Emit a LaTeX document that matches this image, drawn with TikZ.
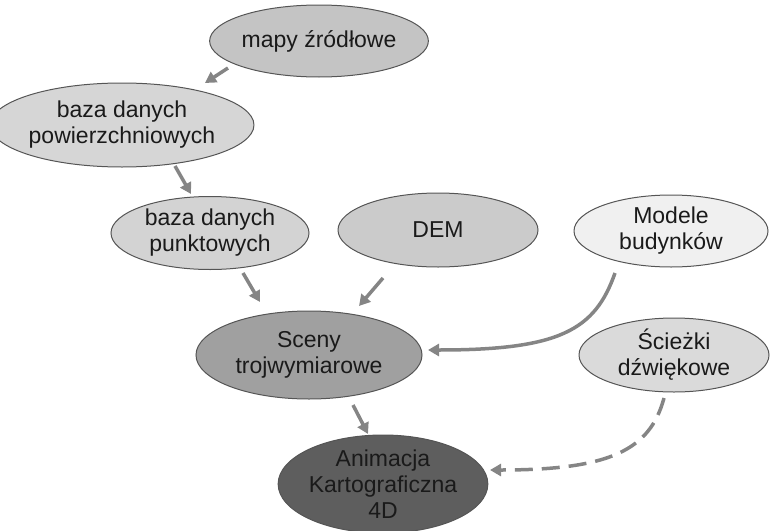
\documentclass[tikz,border=0pt]{standalone}
\usepackage{fontspec}
\setmainfont{Liberation Sans}
\usetikzlibrary{shapes.geometric,arrows.meta}
\definecolor{cMapy}{HTML}{C4C4C4}
\definecolor{cPow}{HTML}{D6D6D6}
\definecolor{cPun}{HTML}{D3D3D3}
\definecolor{cDem}{HTML}{CBCBCB}
\definecolor{cMod}{HTML}{F0F0F0}
\definecolor{cSce}{HTML}{A0A0A0}
\definecolor{cSci}{HTML}{DADADA}
\definecolor{cAni}{HTML}{5E5E5E}
\definecolor{cBord}{HTML}{555555}
\definecolor{cArr}{HTML}{858585}
\definecolor{cTxt}{HTML}{1A1A1A}
\tikzset{
  ell/.style={ellipse, draw=cBord, line width=1pt, inner sep=0pt, align=center,
    text=cTxt, font=\fontsize{23}{26}\selectfont},
  arr/.style={draw=cArr, line width=3.5pt, -{Triangle[length=11pt,width=12pt]}},
  dasharr/.style={arr, dash pattern=on 18pt off 9pt}
}
\begin{document}
\begin{tikzpicture}[x=1pt,y=-1pt]
\useasboundingbox (0,0) rectangle (770,530);
\node[ell, fill=cMapy, minimum width=198pt, minimum height=72pt] (mapy) at (319,41) {mapy źródłowe};
\node[ell, fill=cPow, minimum width=230pt, minimum height=84pt] (bpow) at (122,125) {baza danych\\powierzchniowych};
\node[ell, fill=cPun, minimum width=198pt, minimum height=73pt] (bpun) at (210,233) {baza danych\\punktowych};
\node[ell, fill=cDem, minimum width=200pt, minimum height=74pt] (dem) at (438,230) {DEM};
\node[ell, fill=cMod, minimum width=194pt, minimum height=72pt] (mod) at (671,231) {Modele\\budynków};
\node[ell, fill=cSce, minimum width=226pt, minimum height=88pt] (sce) at (309,355) {Sceny\\trojwymiarowe};
\node[ell, fill=cSci, minimum width=190pt, minimum height=74pt] (sci) at (674,355) {Ścieżki\\dźwiękowe};
\node[ell, fill=cAni, minimum width=196pt, minimum height=98pt] (ani) at (383,484) {Animacja\\Kartograficzna\\4D};

\coordinate (a1s) at (228,68);  \coordinate (a1e) at (205,83);
\coordinate (a2s) at (175,166); \coordinate (a2e) at (191,194);
\coordinate (a3s) at (243,273); \coordinate (a3e) at (260,302);
\coordinate (a4s) at (383,278); \coordinate (a4e) at (359,306);
\coordinate (a5s) at (615,273); \coordinate (a5e) at (428,350);
\coordinate (a6s) at (353,405); \coordinate (a6e) at (368,434);
\coordinate (a7s) at (664,398); \coordinate (a7e) at (490,470);

\draw[arr] (a1s) -- (a1e);
\draw[arr] (a2s) -- (a2e);
\draw[arr] (a3s) -- (a3e);
\draw[arr] (a4s) -- (a4e);
\draw[arr] (a5s) .. controls (595,330) and (560,350) .. (a5e);
\draw[arr] (a6s) -- (a6e);
\draw[dasharr] (a7s) .. controls (650,450) and (610,470) .. (a7e);
\end{tikzpicture}
\end{document}
